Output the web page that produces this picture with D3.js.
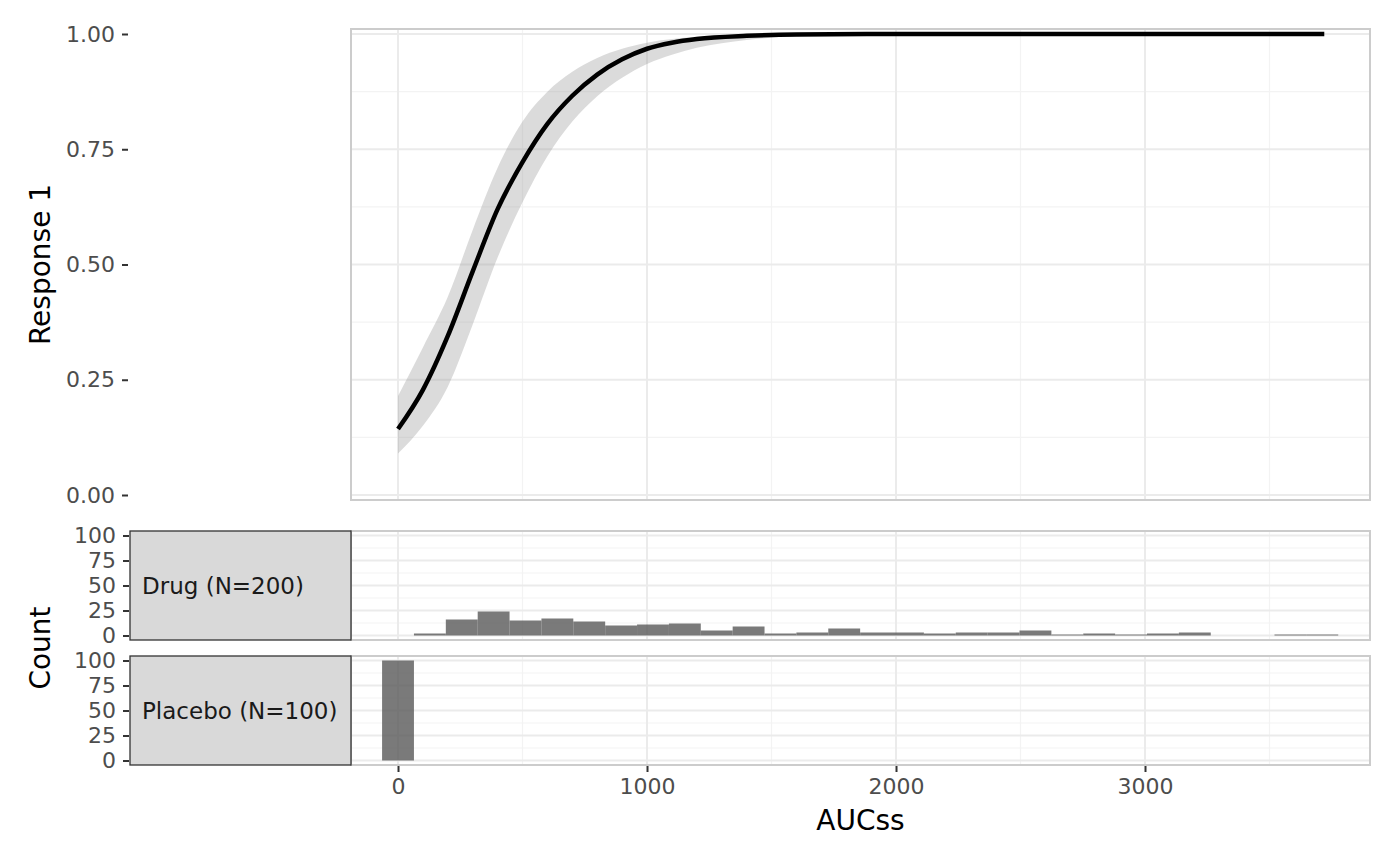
<!DOCTYPE html>
<html><head><meta charset="utf-8">
<script src="https://cdn.jsdelivr.net/npm/d3@7"></script>
<style>body{margin:0;background:#fff} svg{display:block} text{font-family:"DejaVu Sans",sans-serif}</style>
</head><body><svg id="c" width="1400" height="865"></svg>
<script>
// ---- data ----
const curveX   = [0, 100, 200, 300, 400, 500, 600, 700, 800, 900, 1000, 1100, 1200, 1400, 1600, 2000, 2500, 3000, 3720];
const curveFit = [0.143, 0.228, 0.345, 0.485, 0.62, 0.722, 0.805, 0.866, 0.912, 0.945, 0.968, 0.981, 0.989, 0.996, 0.999, 1, 1, 1, 1];
const curveLo  = [0.09, 0.15, 0.235, 0.37, 0.515, 0.635, 0.735, 0.81, 0.865, 0.905, 0.935, 0.955, 0.97, 0.987, 0.995, 0.999, 1, 1, 1];
const curveHi  = [0.215, 0.32, 0.43, 0.575, 0.71, 0.81, 0.875, 0.918, 0.948, 0.968, 0.981, 0.989, 0.994, 0.998, 1, 1, 1, 1, 1];

const binMids = [0,128,256,384,512,640,768,896,1024,1152,1280,1408,1536,1664,1792,1920,2048,2176,2304,2432,2560,2688,2816,2944,3072,3200,3328,3456,3584,3712];
const binWidth = 128;
const drugCounts    = [0,2,16,24,15,17,14,10,11,12,5,9,2,3,7,3,3,2,3,3,5,1,2,1,2,3,0,0,1,1];
const placeboCounts = [100,0,0,0,0,0,0,0,0,0,0,0,0,0,0,0,0,0,0,0,0,0,0,0,0,0,0,0,0,0];
const groups = ["Drug (N=200)", "Placebo (N=100)"];

const xTicks = [0, 1000, 2000, 3000];
const xMinor = [500, 1500, 2500, 3500];
const respTicks = [0, 0.25, 0.5, 0.75, 1];
const respMinor = [0.125, 0.375, 0.625, 0.875];
const countTicks = [0, 25, 50, 75, 100];
const countMinor = [12.5, 37.5, 62.5, 87.5];

// ---- layout ----
const svg = d3.select("#c");
const PL = 351, PR = 1370;
const x = d3.scaleLinear().domain([-188.8, 3903.6]).range([PL, PR]);

const GRID_MAJ = "#EBEBEB", GRID_MIN = "#F3F3F3", BORDER = "#CCCCCC";
const TICK_COL = "#333333", LAB_COL = "#4D4D4D";
const TICK_FS = 22, STRIP_FS = 23, TITLE_FS = 28;

function panel(top, bottom, y, yMaj, yMin) {
  const g = svg.append("g");
  g.append("rect").attr("x", PL).attr("y", top).attr("width", PR - PL).attr("height", bottom - top).attr("fill", "#fff");
  yMin.forEach(v => g.append("line").attr("x1", PL).attr("x2", PR).attr("y1", y(v)).attr("y2", y(v)).attr("stroke", GRID_MIN).attr("stroke-width", 1.2));
  xMinor.forEach(v => g.append("line").attr("x1", x(v)).attr("x2", x(v)).attr("y1", top).attr("y2", bottom).attr("stroke", GRID_MIN).attr("stroke-width", 1.2));
  yMaj.forEach(v => g.append("line").attr("x1", PL).attr("x2", PR).attr("y1", y(v)).attr("y2", y(v)).attr("stroke", GRID_MAJ).attr("stroke-width", 2));
  xTicks.forEach(v => g.append("line").attr("x1", x(v)).attr("x2", x(v)).attr("y1", top).attr("y2", bottom).attr("stroke", GRID_MAJ).attr("stroke-width", 2));
  return g;
}
function border(top, bottom) {
  svg.append("rect").attr("x", PL).attr("y", top).attr("width", PR - PL).attr("height", bottom - top)
    .attr("fill", "none").attr("stroke", BORDER).attr("stroke-width", 2);
}
function yAxis(y, ticks, xpos, fmt) {
  const ax = svg.append("g").attr("transform", `translate(${xpos},0)`)
    .call(d3.axisLeft(y).tickValues(ticks).tickSize(6).tickPadding(7).tickFormat(fmt));
  ax.select(".domain").remove();
  ax.selectAll(".tick line").attr("stroke", TICK_COL).attr("stroke-width", 2);
  ax.selectAll(".tick text").attr("fill", LAB_COL).style("font-size", TICK_FS + "px").style("font-family", "DejaVu Sans");
}

// ---- top panel: response curve ----
const T0 = 29, T1 = 500;
const yR = d3.scaleLinear().domain([0, 1]).range([495, 34]);
const gTop = panel(T0, T1, yR, respTicks, respMinor);
const pts = curveX.map((v, i) => ({x: v, f: curveFit[i], lo: curveLo[i], hi: curveHi[i]}));
gTop.append("path").datum(pts)
  .attr("d", d3.area().x(d => x(d.x)).y0(d => yR(d.lo)).y1(d => yR(d.hi)).curve(d3.curveMonotoneX))
  .attr("fill", "#999999").attr("fill-opacity", 0.35);
gTop.append("path").datum(pts)
  .attr("d", d3.line().x(d => x(d.x)).y(d => yR(d.f)).curve(d3.curveMonotoneX))
  .attr("fill", "none").attr("stroke", "#000").attr("stroke-width", 4.5);
border(T0, T1);
yAxis(yR, respTicks, 128, d3.format(".2f"));

// ---- histogram panels ----
const hist = [
  {name: groups[0], counts: drugCounts,    top: 531, bottom: 640},
  {name: groups[1], counts: placeboCounts, top: 656, bottom: 765}
];
hist.forEach(h => {
  const y = d3.scaleLinear().domain([0, 100]).range([h.bottom - 4.5, h.top + 4.5]);
  const g = panel(h.top, h.bottom, y, countTicks, countMinor);
  const bins = binMids.map((m, i) => ({m, c: h.counts[i]})).filter(d => d.c > 0);
  g.selectAll("rect.bar").data(bins).join("rect").attr("class", "bar")
    .attr("x", d => x(d.m - binWidth / 2)).attr("width", d => x(d.m + binWidth / 2) - x(d.m - binWidth / 2))
    .attr("y", d => y(d.c)).attr("height", d => y(0) - y(d.c))
    .attr("fill", "#595959").attr("fill-opacity", 0.8);
  border(h.top, h.bottom);
  // strip on the left
  svg.append("rect").attr("x", 130).attr("y", h.top).attr("width", PL - 130).attr("height", h.bottom - h.top)
    .attr("fill", "#D9D9D9").attr("stroke", "#333333").attr("stroke-width", 1.3);
  svg.append("text").attr("x", 142).attr("y", (h.top + h.bottom) / 2).attr("dy", "0.35em")
    .attr("fill", "#1A1A1A").style("font-size", STRIP_FS + "px").text(h.name);
  yAxis(y, countTicks, 129, d3.format("d"));
});

// ---- x axis ----
const xa = svg.append("g").attr("transform", "translate(0,766)")
  .call(d3.axisBottom(x).tickValues(xTicks).tickSize(6).tickPadding(6).tickFormat(d3.format("d")));
xa.select(".domain").remove();
xa.selectAll(".tick line").attr("stroke", TICK_COL).attr("stroke-width", 2);
xa.selectAll(".tick text").attr("fill", LAB_COL).style("font-size", TICK_FS + "px").style("font-family", "DejaVu Sans");

// ---- titles ----
svg.append("text").attr("x", (PL + PR) / 2).attr("y", 830).attr("text-anchor", "middle")
  .style("font-size", TITLE_FS + "px").attr("fill", "#000").text("AUCss");
svg.append("text").attr("transform", `translate(50,${(T0 + T1) / 2}) rotate(-90)`).attr("text-anchor", "middle")
  .style("font-size", TITLE_FS + "px").attr("fill", "#000").text("Response 1");
svg.append("text").attr("transform", `translate(50,${(531 + 765) / 2}) rotate(-90)`).attr("text-anchor", "middle")
  .style("font-size", TITLE_FS + "px").attr("fill", "#000").text("Count");
</script></body></html>
